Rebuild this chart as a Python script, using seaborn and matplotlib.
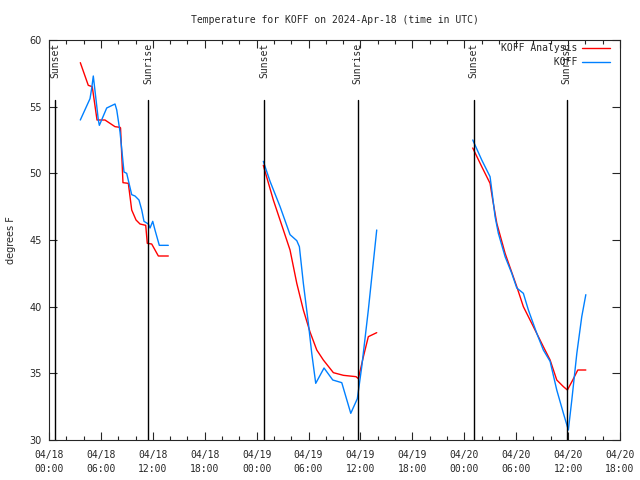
import numpy as np
import pandas as pd
import seaborn as sns
import matplotlib
matplotlib.use('Agg')
from matplotlib import pyplot as plt
from matplotlib.lines import Line2D
import matplotlib.dates as mdates

sns.set_style('ticks')
plt.rcParams['font.family'] = ['DejaVu Sans Mono']

start = pd.Timestamp('2024-04-18 00:00')

# hours after 04/18 00:00 UTC, temperatures in degrees F
# KOFF Analysis (red), three pieces
ana_h1 = [3.62, 4.54, 5.0, 5.55, 5.78, 6.47, 7.63, 8.21, 8.27, 8.55, 9.17, 9.56, 10.06,
          10.52, 11.18, 11.36, 11.87, 12.64, 13.79]
ana_t1 = [58.3, 56.6, 56.5, 54.0, 54.0, 54.0, 53.5, 53.45, 53.4, 49.3, 49.25, 47.25, 46.5,
          46.2, 46.1, 44.75, 44.7, 43.8, 43.8]
ana_h2 = [24.77, 25.93, 27.09, 27.86, 28.64, 29.4, 30.17, 30.95, 31.71, 32.87, 34.03,
          35.49, 35.76, 36.34, 36.91, 37.88]
ana_t2 = [50.6, 48.0, 45.75, 44.25, 41.75, 39.75, 38.1, 36.75, 36.0, 35.05, 34.85,
          34.75, 34.6, 36.25, 37.75, 38.05]
ana_h3 = [48.98, 50.02, 50.98, 51.29, 51.76, 52.72, 54.07, 54.83, 55.99, 57.14, 57.92,
          58.69, 59.46, 59.92, 60.54, 61.12, 62.05]
ana_t3 = [51.9, 50.5, 49.25, 48.0, 46.25, 44.0, 41.5, 40.0, 38.5, 37.0, 36.0,
          34.5, 34.0, 33.75, 34.5, 35.25, 35.25]

# KOFF observations (blue)
obs_h1 = [3.62, 4.74, 4.94, 5.12, 5.51, 5.7, 5.82, 6.67, 7.63, 7.83, 8.21, 8.67, 8.98,
          9.25, 9.56, 9.94, 10.4, 10.72, 10.98, 11.48, 11.68, 11.99, 12.25, 12.75, 13.79]
obs_t1 = [54.0, 55.6, 56.4, 57.3, 55.1, 54.0, 53.6, 54.9, 55.2, 54.75, 53.1, 50.1, 50.0,
          49.25, 48.4, 48.3, 48.0, 47.25, 46.4, 46.2, 45.9, 46.4, 45.75, 44.6, 44.6]
obs_h2 = [24.77, 25.55, 26.71, 27.86, 28.64, 28.94, 29.4, 29.98, 30.37, 30.83, 31.79,
          32.8, 33.84, 34.88, 35.64, 36.15, 36.91, 37.88]
obs_t2 = [50.9, 49.4, 47.5, 45.4, 44.95, 44.5, 41.75, 38.75, 36.5, 34.25, 35.4,
          34.5, 34.3, 32.0, 33.1, 35.5, 39.75, 45.75]
obs_h3 = [48.98, 50.02, 50.98, 51.18, 51.56, 51.94, 52.72, 53.49, 54.07, 54.83, 55.41,
          56.38, 57.14, 57.92, 58.69, 59.46, 60.03, 60.43, 61.01, 61.58, 62.05]
obs_t3 = [52.5, 51.0, 49.75, 48.75, 46.75, 45.5, 43.75, 42.5, 41.4, 41.0, 39.75,
          38.0, 36.75, 35.9, 33.75, 32.0, 30.75, 33.0, 36.5, 39.25, 40.9]

sun_h = [0.75, 11.5, 24.9, 35.67, 49.08, 59.83]
sun_labels = ['Sunset', 'Sunrise', 'Sunset', 'Sunrise', 'Sunset', 'Sunrise']

series_names = ['KOFF Analysis', 'KOFF']
series_colors = ['#ff0000', '#0080ff']


def make_df(pieces, name):
    rows = []
    for i, (h, t) in enumerate(pieces):
        for hh, tt in zip(h, t):
            rows.append({'time': start + pd.Timedelta(hours=hh), 'temp': tt,
                         'seg': i, 'series': name})
    return pd.DataFrame(rows)


ana = make_df([(ana_h1, ana_t1), (ana_h2, ana_t2), (ana_h3, ana_t3)], series_names[0])
obs = make_df([(obs_h1, obs_t1), (obs_h2, obs_t2), (obs_h3, obs_t3)], series_names[1])

fig = plt.figure(figsize=(6.4, 4.8), dpi=100)
ax = fig.add_axes([49 / 640, 40 / 480, 571 / 640, 400 / 480])

sns.lineplot(data=ana, x='time', y='temp', units='seg', estimator=None,
             color=series_colors[0], lw=1, ax=ax, legend=False)
sns.lineplot(data=obs, x='time', y='temp', units='seg', estimator=None,
             color=series_colors[1], lw=1, ax=ax, legend=False)

for h, lab in zip(sun_h, sun_labels):
    t = start + pd.Timedelta(hours=h)
    ax.plot([t, t], [30, 55.5], color='black', lw=1)
    ax.text(t, 59.8, lab, rotation=90, ha='center', va='top', fontsize=7)

ax.set_xlim(start, start + pd.Timedelta(hours=66))
ax.set_ylim(30, 60)
ax.set_yticks(np.arange(30, 61, 5))
ax.xaxis.set_major_locator(mdates.HourLocator(byhour=[0, 6, 12, 18]))
ax.xaxis.set_minor_locator(mdates.HourLocator(interval=2))
ax.xaxis.set_major_formatter(mdates.DateFormatter('%m/%d\n%H:%M'))
ax.tick_params(which='both', direction='in', top=True, right=True, labelsize=7, width=0.8)
ax.tick_params(which='major', length=6, pad=5)
ax.tick_params(axis='x', which='major', pad=7)
ax.tick_params(which='minor', length=3)
for lab in ax.get_xticklabels():
    lab.set_linespacing(1.5)
for lab in ax.get_yticklabels():
    lab.set_family('DejaVu Sans')
for s in ax.spines.values():
    s.set_linewidth(0.8)

ax.set_xlabel('')
ax.set_ylabel('degrees F', fontsize=7, family='DejaVu Sans', labelpad=10)
ax.set_title('Temperature for KOFF on 2024-Apr-18 (time in UTC)', fontsize=7, pad=12)

# right-justified labels (monospace font, pad with spaces)
width = max(len(n) for n in series_names)
handles = [Line2D([], [], color=c, lw=1) for c in series_colors]
labels = [n.rjust(width) for n in series_names]
ax.legend(handles, labels, loc='upper right', bbox_to_anchor=(0.9825, 0.9925),
          frameon=False, markerfirst=False, fontsize=7, handlelength=2.9,
          borderaxespad=0, borderpad=0, labelspacing=0.45, handletextpad=0.5)

fig.savefig('out.png', dpi=100)
